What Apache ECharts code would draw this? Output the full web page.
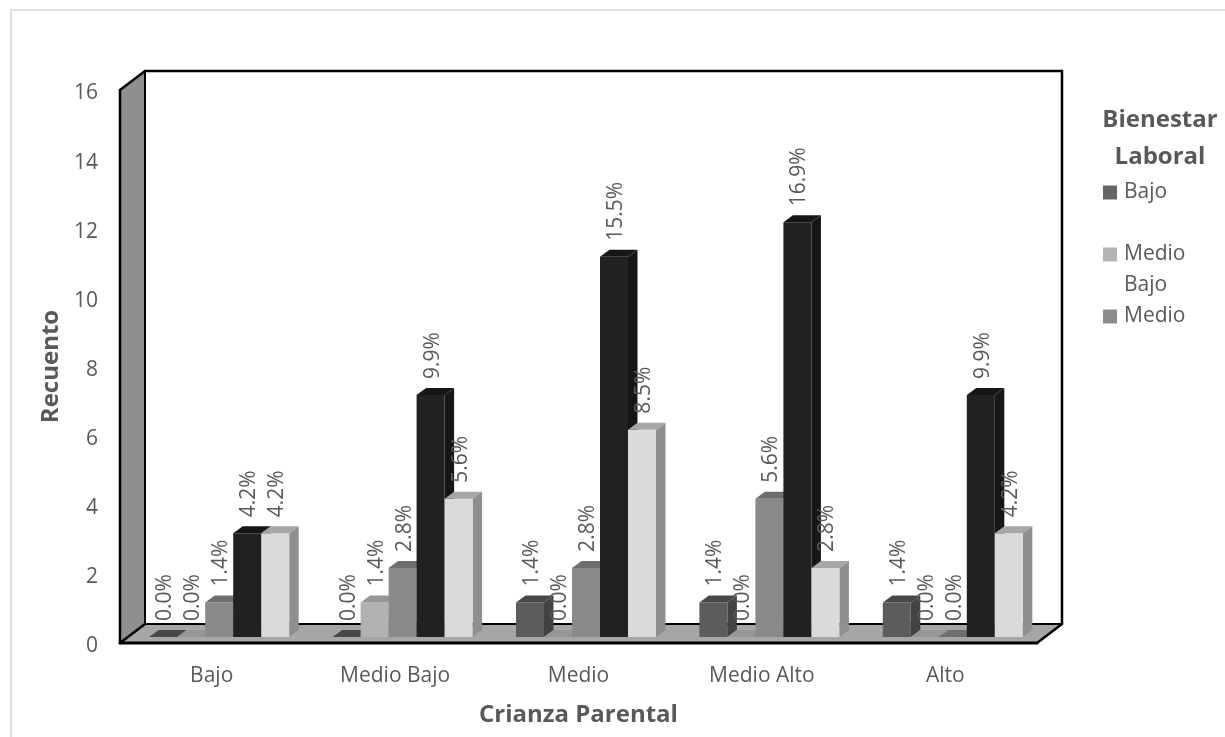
<!DOCTYPE html>
<html>
<head>
<meta charset="utf-8">
<style>html,body{margin:0;padding:0;background:#fff}#chart{width:1225px;height:737px}</style>
<script src="https://cdn.jsdelivr.net/npm/echarts@6/dist/echarts.min.js"></script>
</head>
<body>
<div id="chart"></div>
<script>
// Crianza Parental vs Bienestar Laboral: counts per category, labelled with share of total
const categories = ['Bajo', 'Medio Bajo', 'Medio', 'Medio Alto', 'Alto'];
const seriesNames = ['Bajo', 'Medio Bajo', 'Medio', 'Medio Alto', 'Alto'];

const valuesBajo = [0, 0, 1, 1, 1];
const valuesMedioBajo = [0, 1, 0, 0, 0];
const valuesMedio = [1, 2, 2, 4, 0];
const valuesMedioAlto = [3, 7, 11, 12, 7];
const valuesAlto = [3, 4, 6, 2, 3];

const labelsBajo = ['0.0%', '0.0%', '1.4%', '1.4%', '1.4%'];
const labelsMedioBajo = ['0.0%', '1.4%', '0.0%', '0.0%', '0.0%'];
const labelsMedio = ['1.4%', '2.8%', '2.8%', '5.6%', '0.0%'];
const labelsMedioAlto = ['4.2%', '9.9%', '15.5%', '16.9%', '9.9%'];
const labelsAlto = ['4.2%', '5.6%', '8.5%', '2.8%', '4.2%'];

const yTicks = { min: 0, max: 16, interval: 2 };

const allValues = [valuesBajo, valuesMedioBajo, valuesMedio, valuesMedioAlto, valuesAlto];
const allLabels = [labelsBajo, labelsMedioBajo, labelsMedio, labelsMedioAlto, labelsAlto];

// Face colours of each bar: front, top, side
const faceColors = [
  { front: '#5c5c5c', top: '#484848', side: '#424242' },
  { front: '#b2b2b2', top: '#969696', side: '#8a8a8a' },
  { front: '#8a8a8a', top: '#6e6e6e', side: '#686868' },
  { front: '#212121', top: '#161616', side: '#161616' },
  { front: '#dadada', top: '#a6a6a6', side: '#8f8f8f' }
];
const legendColors = ['#666666', '#b3b3b3', '#8c8c8c', '#262626', '#d9d9d9'];

const FONT = '"Open Sans", sans-serif';
const TEXT = '#595959';

// Oblique projection used to fake depth
const WALL_DX = 25, WALL_DY = -19;
const BAR_SHIFT_X = 7.5, BAR_SHIFT_Y = -6;
const BAR_DX = 9.5, BAR_DY = -7;
const BAR_BAND = 0.1527;

function poly(points, fill, z2, stroke, lineWidth) {
  return {
    type: 'polygon',
    z2: z2,
    shape: { points: points },
    style: { fill: fill, stroke: stroke || null, lineWidth: lineWidth || 0 }
  };
}

function line(x1, y1, x2, y2, w, z2) {
  return {
    type: 'line',
    z2: z2,
    shape: { x1: x1, y1: y1, x2: x2, y2: y2 },
    style: { stroke: '#000', lineWidth: w, lineCap: 'round' }
  };
}

// Side wall, floor and frame, derived from the grid rectangle
function renderWalls(params) {
  const c = params.coordSys;
  const l = c.x, t = c.y, r = c.x + c.width, b = c.y + c.height;
  const dx = WALL_DX, dy = WALL_DY;
  return {
    type: 'group',
    children: [
      poly([[l, t], [l + dx, t + dy], [l + dx, b + dy], [l, b]], '#8f8f8f', 1),
      poly([[l, b], [l + dx, b + dy], [r + dx, b + dy], [r, b]], '#a6a6a6', 1),
      line(l, t, l + dx, t + dy, 2.5, 2),
      line(l + dx, t + dy, r + dx, t + dy, 2.5, 2),
      line(r + dx, t + dy, r + dx, b + dy, 2.5, 2),
      line(l + dx, t + dy, l + dx, b + dy, 2, 2),
      line(l + dx, b + dy, r + dx, b + dy, 2, 2),
      line(l, t, l, b, 2.5, 2),
      line(l, b, r, b, 3, 2),
      line(l, b, l + dx, b + dy, 2.5, 2),
      line(r, b, r + dx, b + dy, 2.5, 2)
    ]
  };
}

function makeBarRenderer(idx) {
  return function (params, api) {
    const cat = api.value(0), val = api.value(1);
    const band = api.size([1, 0])[0];
    const w = band * BAR_BAND;
    const cx = api.coord([cat, 0])[0] + BAR_SHIFT_X;
    const x0 = cx + (idx - 2.5) * w, x1 = x0 + w;
    const yb = api.coord([cat, 0])[1] + BAR_SHIFT_Y;
    const yt = api.coord([cat, val])[1] + BAR_SHIFT_Y;
    const col = faceColors[idx];
    const children = [];
    if (val > 0) {
      children.push(poly([[x1, yb], [x1 + BAR_DX, yb + BAR_DY], [x1 + BAR_DX, yt + BAR_DY], [x1, yt]], col.side, 10 + idx));
      children.push(poly([[x0, yb], [x1, yb], [x1, yt], [x0, yt]], col.front, 10 + idx));
    }
    children.push(poly([[x0, yt], [x0 + BAR_DX, yt + BAR_DY], [x1 + BAR_DX, yt + BAR_DY], [x1, yt]], col.top, 10 + idx));
    children.push({
      type: 'text',
      z2: 50,
      x: (x0 + x1) / 2 + 2,
      y: yt + BAR_DY - 9,
      rotation: Math.PI / 2,
      style: {
        text: allLabels[idx][params.dataIndex],
        fill: TEXT,
        font: '21px ' + FONT,
        align: 'left',
        verticalAlign: 'middle'
      }
    });
    return { type: 'group', children: children };
  };
}

const barSeries = seriesNames.map(function (name, idx) {
  return {
    type: 'custom',
    name: name,
    coordinateSystem: 'cartesian2d',
    renderItem: makeBarRenderer(idx),
    itemStyle: { color: legendColors[idx] },
    encode: { x: 0, y: 1 },
    data: allValues[idx].map(function (v, i) { return [i, v]; }),
    silent: true
  };
});

function legendEntry(name, top, text) {
  return {
    show: true,
    data: [name],
    orient: 'vertical',
    left: 1103,
    top: top,
    icon: 'rect',
    itemWidth: 14,
    itemHeight: 14,
    itemGap: 0,
    padding: 0,
    selectedMode: false,
    formatter: function () { return text; },
    textStyle: { color: TEXT, fontFamily: FONT, fontSize: 21, lineHeight: 31, padding: [4, 0, 0, 2] }
  };
}

const chart = echarts.init(document.getElementById('chart'), null, { renderer: 'canvas' });
chart.setOption({
  animation: false,
  backgroundColor: '#ffffff',
  title: {
    text: 'Bienestar\nLaboral',
    left: 1160,
    top: 102,
    textAlign: 'center',
    padding: 0,
    textStyle: { color: TEXT, fontFamily: FONT, fontSize: 24, fontWeight: 'bold', lineHeight: 37 }
  },
  legend: [
    legendEntry('Bajo', 175, 'Bajo'),
    legendEntry('Medio Bajo', 206, '\nMedio\nBajo'),
    legendEntry('Medio', 299, 'Medio')
  ],
  grid: { left: 120, right: 188, top: 90, bottom: 94, containLabel: false },
  xAxis: {
    type: 'category',
    data: categories,
    axisLine: { show: false },
    axisTick: { show: false },
    axisLabel: { color: TEXT, fontFamily: FONT, fontSize: 21, margin: 23 },
    name: 'Crianza Parental',
    nameLocation: 'middle',
    nameGap: 72,
    nameTextStyle: { color: TEXT, fontFamily: FONT, fontSize: 24, fontWeight: 'bold', verticalAlign: 'middle' }
  },
  yAxis: {
    type: 'value',
    min: yTicks.min,
    max: yTicks.max,
    interval: yTicks.interval,
    axisLine: { show: false },
    axisTick: { show: false },
    splitLine: { show: false },
    axisLabel: { color: TEXT, fontFamily: FONT, fontSize: 21, margin: 22, verticalAlign: 'top', lineHeight: 7 },
    name: 'Recuento',
    nameLocation: 'middle',
    nameRotate: 90,
    nameGap: 69,
    nameTextStyle: { color: TEXT, fontFamily: FONT, fontSize: 24, fontWeight: 'bold', verticalAlign: 'middle' }
  },
  graphic: [{
    type: 'rect',
    silent: true,
    z: -1,
    shape: { x: 11, y: 10, width: 1300, height: 800 },
    style: { fill: null, stroke: '#e0e0e0', lineWidth: 2 }
  }],
  series: [{
    type: 'custom',
    name: 'paredes',
    coordinateSystem: 'cartesian2d',
    renderItem: renderWalls,
    data: [[0, 0]],
    encode: { x: 0, y: 1 },
    silent: true,
    z: 1
  }].concat(barSeries)
});
</script>
</body>
</html>
